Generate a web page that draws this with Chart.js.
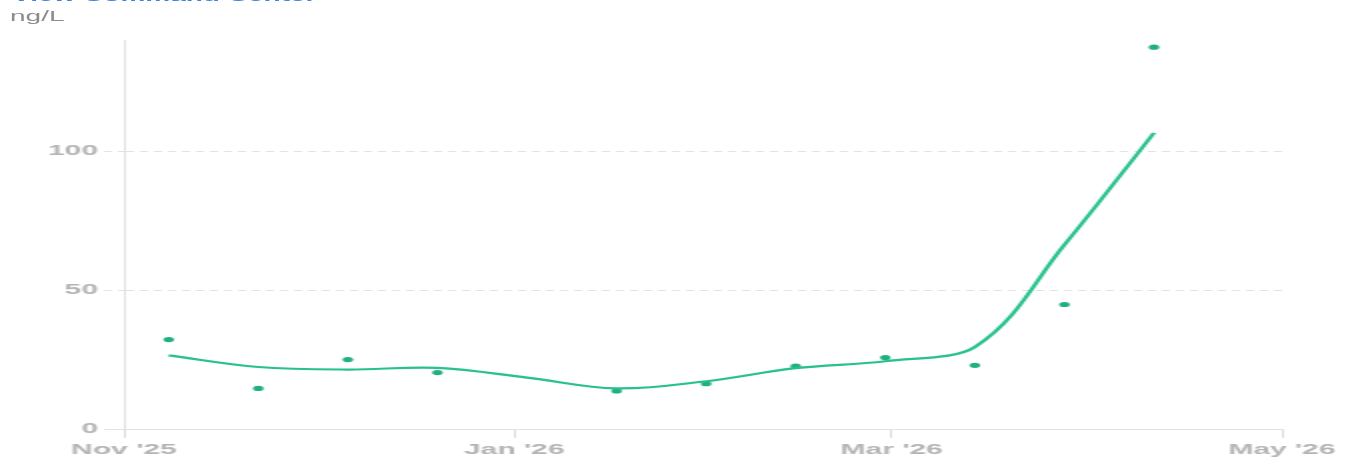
<!DOCTYPE html>
<html lang="en">
<head>
    <meta charset="UTF-8">
    <title>Command Center - ng/L</title>
    <script src="https://cdn.jsdelivr.net/npm/chart.js"></script>
    <style>
        body { margin: 0; background: #fff; overflow: hidden; }
        /* the reference is a narrow chart stretched 2x in width */
        .wrap { position: relative; width: 676px; height: 465px; transform: scaleX(2); transform-origin: 0 0; }
        .site { position: absolute; left: 6px; top: -12px; font: 600 14px "Liberation Sans", Arial, sans-serif; color: #3f82dc; white-space: nowrap; }
        .unit { position: absolute; left: 5px; top: 8px; font: 14px "Liberation Sans", Arial, sans-serif; color: #8c8c8c; }
        canvas { position: absolute; left: 0; top: 0; }
    </style>
</head>
<body>
    <div class="wrap">
        <div class="site">View Command Center</div>
        <div class="unit">ng/L</div>
        <canvas id="trendChart" width="676" height="465" style="width:676px;height:465px"></canvas>
    </div>

    <script>
        // measured samples
        const sampleDates = ['2025-11-08', '2025-11-22', '2025-12-06', '2025-12-20', '2026-01-17', '2026-01-31',
                             '2026-02-14', '2026-02-28', '2026-03-14', '2026-03-28', '2026-04-11'];
        const sampleValues = [32.2, 14.6, 25.0, 20.3, 13.7, 16.3, 22.6, 25.7, 22.9, 44.8, 137.4];

        // smoothed trend line
        const trendDates = ['2025-11-08', '2025-11-22', '2025-12-06', '2025-12-20', '2026-01-03', '2026-01-17',
                            '2026-01-31', '2026-02-14', '2026-02-28', '2026-03-14', '2026-03-28', '2026-04-11'];
        const trendValues = [26.5, 22.3, 21.4, 22.0, 18.5, 14.6, 17.2, 21.9, 24.4, 29.5, 66.3, 106.6];

        const tickDates = ['2025-11-01', '2026-01-01', '2026-03-01', '2026-05-01'];
        const tickLabels = ["Nov '25", "Jan '26", "Mar '26", "May '26"];
        const yTicks = [0, 50, 100];
        const yMax = 140;

        const origin = Date.parse(tickDates[0]);
        const toDay = d => (Date.parse(d) - origin) / 86400000;
        const tickDays = tickDates.map(toDay);

        const green = '#27c08e';
        const tickFont = { family: 'Liberation Sans', size: 15, weight: 'bold' };

        new Chart(document.getElementById('trendChart'), {
            type: 'line',
            data: {
                datasets: [{
                    label: 'Trend',
                    data: trendDates.map((d, i) => ({ x: toDay(d), y: trendValues[i] })),
                    borderColor: green,
                    borderWidth: 2.2,
                    pointRadius: 0,
                    tension: 0.35,
                    fill: false
                }, {
                    label: 'Samples',
                    data: sampleDates.map((d, i) => ({ x: toDay(d), y: sampleValues[i] })),
                    showLine: false,
                    pointRadius: 2.6,
                    pointBorderWidth: 0,
                    pointBackgroundColor: '#1fb081'
                }]
            },
            options: {
                responsive: false,
                animation: false,
                layout: { padding: { top: 40, right: 35, left: 0, bottom: 0 } },
                plugins: { legend: { display: false }, tooltip: { enabled: false } },
                scales: {
                    x: {
                        type: 'linear',
                        min: tickDays[0],
                        max: tickDays[tickDays.length - 1],
                        afterBuildTicks: s => { s.ticks = tickDays.map(v => ({ value: v })); },
                        afterFit: s => { s.height = 36; },
                        grid: { drawOnChartArea: false, drawTicks: true, tickLength: 9, tickColor: '#dcdcdc' },
                        border: { color: '#e2e2e2' },
                        ticks: {
                            autoSkip: false,
                            maxRotation: 0,
                            padding: 3,
                            color: '#b4b4b4',
                            font: tickFont,
                            callback: v => tickLabels[tickDays.indexOf(v)]
                        }
                    },
                    y: {
                        min: 0,
                        max: yMax,
                        afterBuildTicks: s => { s.ticks = yTicks.map(v => ({ value: v })); },
                        afterFit: s => { s.width = 62; },
                        grid: {
                            color: '#e3e3e3',
                            tickColor: '#e3e3e3',
                            tickLength: 10,
                            tickBorderDash: c => (c.tick && c.tick.value === 0) ? [] : [4, 3]
                        },
                        border: {
                            color: '#e2e2e2',
                            dash: c => (c.tick && c.tick.value === 0) ? [] : [4, 3]
                        },
                        ticks: { padding: 3, color: '#b4b4b4', font: tickFont }
                    }
                }
            }
        });
    </script>
</body>
</html>
